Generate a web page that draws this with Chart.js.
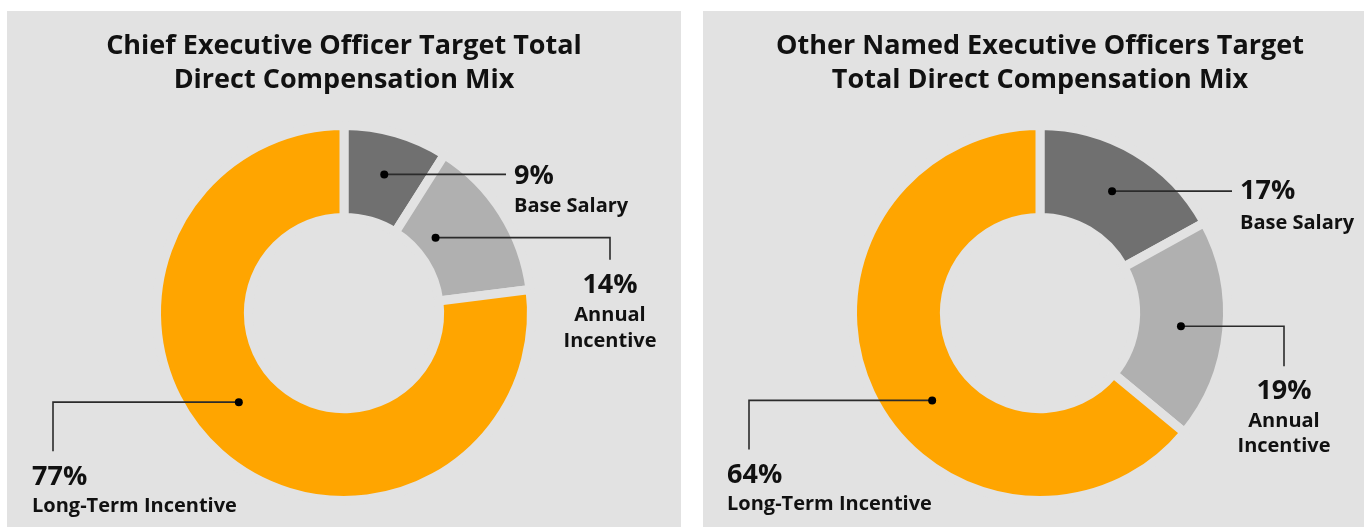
<!DOCTYPE html>
<html><head><meta charset="utf-8">
<script src="https://cdn.jsdelivr.net/npm/chart.js@4/dist/chart.umd.min.js"></script>
<style>
html,body{margin:0;padding:0;background:#fff;width:1364px;height:529px;overflow:hidden;position:relative;}
.panel{position:absolute;top:11px;height:516px;width:674px;background:#e2e2e2;}
#p1{left:7px}
#p2{left:703px}
canvas{display:block}
</style></head><body>
<div class="panel" id="p1"><canvas id="c1" width="674" height="516"></canvas></div>
<div class="panel" id="p2"><canvas id="c2" width="674" height="516"></canvas></div>
<script>
// ---- data ----
const categories = ['Base Salary', 'Annual Incentive', 'Long-Term Incentive'];
const ceoValues = [9, 14, 77];
const neoValues = [17, 19, 64];
const ceoTitle = ['Chief Executive Officer Target Total', 'Direct Compensation Mix'];
const neoTitle = ['Other Named Executive Officers Target', 'Total Direct Compensation Mix'];
const nameLines = [['Base Salary'], ['Annual', 'Incentive'], ['Long-Term Incentive']];
const sliceColors = ['#707070', '#b0b0b0', '#ffa500'];
const panelBg = '#e2e2e2';

// ---- label layout (relative to chart centre / anchor dot) ----
const ceoLabels = [
  {af: 0.5, rf: 0.53, endX: 162, drop: 0, align: 'left', tx: 170, pctDy: 2, nameDy: [32]},
  {af: 0.36, rf: 0.25, endX: 266, drop: 22, align: 'center', tx: 266, pctDy: 48, nameDy: [78, 104]},
  {af: 0.53, rf: 0.46, endX: -291, drop: 49, align: 'left', tx: -312, pctDy: 75, nameDy: [104]}
];
const neoLabels = [
  {af: 0.5, rf: 0.5, endX: 192, drop: 0, align: 'left', tx: 200, pctDy: 0, nameDy: [32]},
  {af: 0.5, rf: 0.5, endX: 244, drop: 40, align: 'center', tx: 244, pctDy: 65, nameDy: [95, 120]},
  {af: 0.44, rf: 0.47, endX: -291, drop: 49, align: 'left', tx: -313, pctDy: 75, nameDy: [104]}
];

const FONT = "'Open Sans', 'Noto Sans', sans-serif";

const labelPlugin = {
  id: 'labels',
  afterDatasetsDraw(chart, args, opts) {
    const ctx = chart.ctx;
    const meta = chart.getDatasetMeta(0);
    const data = chart.data.datasets[0].data;
    ctx.save();
    // title
    ctx.fillStyle = '#111';
    ctx.textAlign = 'center';
    ctx.textBaseline = 'middle';
    ctx.font = 'bold 27px ' + FONT;
    opts.title.forEach((t, i) => ctx.fillText(t, chart.width / 2, 35 + i * 34));
    meta.data.forEach((arc, i) => {
      const L = opts.layout[i];
      const p = arc.getProps(['x', 'y', 'startAngle', 'endAngle', 'innerRadius', 'outerRadius'], true);
      const a = p.startAngle + L.af * (p.endAngle - p.startAngle);
      const r = p.innerRadius + L.rf * (p.outerRadius - p.innerRadius);
      const dx = p.x + Math.cos(a) * r, dy = p.y + Math.sin(a) * r;
      const ex = p.x + L.endX;
      ctx.strokeStyle = '#2b2b2b';
      ctx.lineWidth = 1.6;
      ctx.beginPath();
      ctx.moveTo(dx, dy);
      ctx.lineTo(ex, dy);
      if (L.drop) ctx.lineTo(ex, dy + L.drop);
      ctx.stroke();
      ctx.fillStyle = '#000';
      ctx.beginPath();
      ctx.arc(dx, dy, 4, 0, Math.PI * 2);
      ctx.fill();
      ctx.fillStyle = '#111';
      ctx.textAlign = L.align;
      ctx.textBaseline = 'middle';
      ctx.font = 'bold 27px ' + FONT;
      ctx.fillText(data[i] + '%', p.x + L.tx, dy + L.pctDy);
      ctx.font = 'bold 20px ' + FONT;
      nameLines[i].forEach((s, k) => ctx.fillText(s, p.x + L.tx, dy + L.nameDy[k]));
    });
    ctx.restore();
  }
};

function makeChart(id, values, title, layout) {
  return new Chart(document.getElementById(id), {
    type: 'doughnut',
    data: {
      labels: categories,
      datasets: [{
        data: values,
        backgroundColor: sliceColors,
        borderColor: panelBg,
        borderWidth: 9,
        borderJoinStyle: 'miter',
        hoverOffset: 0
      }]
    },
    options: {
      responsive: false,
      animation: false,
      cutout: '51%',
      layout: {padding: {top: 110, bottom: 22, left: 0, right: 0}},
      plugins: {
        legend: {display: false},
        tooltip: {enabled: false},
        title: {display: false},
        labels: {title: title, layout: layout}
      }
    },
    plugins: [labelPlugin]
  });
}
makeChart('c1', ceoValues, ceoTitle, ceoLabels);
makeChart('c2', neoValues, neoTitle, neoLabels);
</script>
</body></html>
